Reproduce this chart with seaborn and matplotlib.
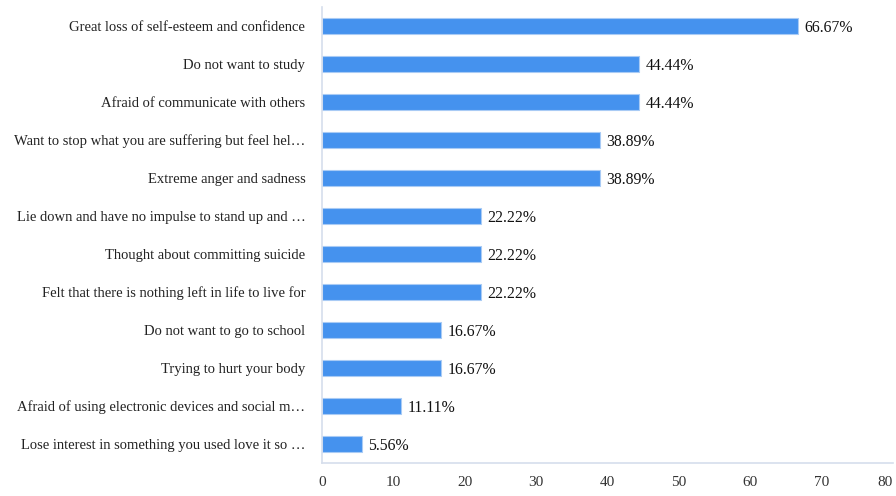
import matplotlib
matplotlib.use("Agg")
import matplotlib.pyplot as plt
import seaborn as sns
import pandas as pd

categories = [
    "Great loss of self-esteem and confidence",
    "Do not want to study",
    "Afraid of communicate with others",
    "Want to stop what you are suffering but feel hel\u2026",
    "Extreme anger and sadness",
    "Lie down and have no impulse to stand up and \u2026",
    "Thought about committing suicide",
    "Felt that there is nothing left in life to live for",
    "Do not want to go to school",
    "Trying to hurt your body",
    "Afraid of using electronic devices and social m\u2026",
    "Lose interest in something you used love it so \u2026",
]
values = [66.67, 44.44, 44.44, 38.89, 38.89, 22.22, 22.22, 22.22, 16.67, 16.67, 11.11, 5.56]
x_ticks = [0, 10, 20, 30, 40, 50, 60, 70, 80]

df = pd.DataFrame({"category": categories, "value": values})

sns.set_theme(style="white")
plt.rcParams["font.family"] = ["Liberation Serif", "DejaVu Serif"]

fig = plt.figure(figsize=(8.96, 4.96), dpi=100)
ax = fig.add_axes([0.3594, 0.0665, 0.6373, 0.9195])

sns.barplot(data=df, x="value", y="category", orient="h", color="#4592ee",
            width=0.4, edgecolor="#a9cbf5", linewidth=0.8, saturation=1, ax=ax)

for i, v in enumerate(values):
    ax.text(v + 0.9, i, f"{v:.2f}%", va="center_baseline", ha="left",
            fontsize=11.3, color="#111111")

ax.set_xlim(0, 80)
ax.set_xticks(x_ticks)
ax.set_xticklabels([str(t) for t in x_ticks])
ax.set_xlabel("")
ax.set_ylabel("")
ax.tick_params(axis="x", length=0, pad=9, labelsize=11, labelcolor="#333333")
ax.tick_params(axis="y", length=0, pad=12, labelsize=10.5, labelcolor="#222222")
# keep the last x tick label inside the figure
ax.get_xticklabels()[-1].set_horizontalalignment("right")

for side in ["top", "right"]:
    ax.spines[side].set_visible(False)
for side in ["left", "bottom"]:
    ax.spines[side].set_color("#d6deec")
    ax.spines[side].set_linewidth(1.2)

fig.savefig("out.png", dpi=100)
